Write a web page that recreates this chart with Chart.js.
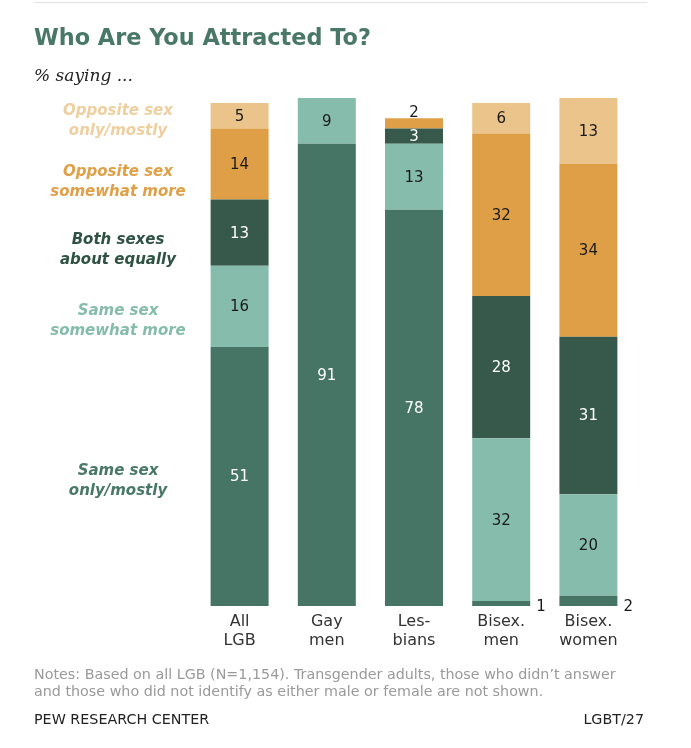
<!DOCTYPE html>
<html>
<head>
<meta charset="utf-8">
<script src="https://cdn.jsdelivr.net/npm/chart.js@4/dist/chart.umd.min.js"></script>
<style>
  html, body { margin: 0; padding: 0; background: #fff; }
  #wrap { position: relative; width: 691px; height: 748px; overflow: hidden; }
  canvas { position: absolute; left: 0; top: 0; }
  .txt { position: absolute; white-space: nowrap; font-family: "DejaVu Sans", sans-serif; }
  #rule { position: absolute; left: 34px; top: 2px; width: 613px; height: 1px; background: #e2e2e2; }
  #title { left: 34px; top: 24px; font-size: 22.4px; font-weight: bold; color: #4a7868; }
  #sub { left: 34px; top: 65px; font-family: "DejaVu Serif", serif; font-style: italic; font-size: 17px; color: #222; }
  #notes { left: 34px; top: 666px; font-size: 14.3px; line-height: 17px; color: #9a9a9a; }
  #src { left: 34px; top: 711px; font-size: 14.3px; color: #222; }
  #code { right: 47px; top: 711px; font-size: 14.3px; color: #222; }
</style>
</head>
<body>
<div id="wrap">
  <canvas id="c" width="691" height="748"></canvas>
  <div id="rule"></div>
  <div class="txt" id="title">Who Are You Attracted To?</div>
  <div class="txt" id="sub">% saying ...</div>
  <div class="txt" id="notes">Notes: Based on all LGB (N=1,154). Transgender adults, those who didn’t answer<br>and those who did not identify as either male or female are not shown.</div>
  <div class="txt" id="src">PEW RESEARCH CENTER</div>
  <div class="txt" id="code">LGBT/27</div>
</div>
<script>
// ---- data ----
const categories = [["All", "LGB"], ["Gay", "men"], ["Les-", "bians"], ["Bisex.", "men"], ["Bisex.", "women"]];
const seriesNames = [
  ["Same sex", "only/mostly"],
  ["Same sex", "somewhat more"],
  ["Both sexes", "about equally"],
  ["Opposite sex", "somewhat more"],
  ["Opposite sex", "only/mostly"]
];
const sameSexOnly      = [51, 91, 78, 1, 2];
const sameSexSomewhat  = [16, 9, 13, 32, 20];
const bothEqually      = [13, null, 3, 28, 31];
const oppositeSomewhat = [14, null, 2, 32, 34];
const oppositeOnly     = [5, null, null, 6, 13];

// ---- styles ----
const barColors   = ["#477565", "#86bcab", "#37594c", "#de9f47", "#eac48b"];
const nameColors  = ["#4a7868", "#86bcab", "#2f5245", "#dfa048", "#eecf9f"];
const valueColors = ["#ffffff", "#1a1a1a", "#ffffff", "#1a1a1a", "#1a1a1a"];
const nameY = [481, 321, 250, 182, 121.5]; // pixel centers of the left-hand labels

const allSeries = [sameSexOnly, sameSexSomewhat, bothEqually, oppositeSomewhat, oppositeOnly];

const labelPlugin = {
  id: 'labels',
  afterDatasetsDraw(chart) {
    const ctx = chart.ctx;
    ctx.save();
    // series names on the left
    ctx.font = 'italic bold 15px "DejaVu Sans"';
    ctx.textAlign = 'center';
    ctx.textBaseline = 'middle';
    seriesNames.forEach((lines, i) => {
      ctx.fillStyle = nameColors[i];
      ctx.fillText(lines[0], 118, nameY[i] - 10);
      ctx.fillText(lines[1], 118, nameY[i] + 10);
    });
    // values
    ctx.font = '15px "DejaVu Sans"';
    chart.data.datasets.forEach((ds, di) => {
      const meta = chart.getDatasetMeta(di);
      meta.data.forEach((bar, j) => {
        const v = ds.data[j];
        if (v === null || v === undefined) return;
        const top = Math.min(bar.y, bar.base), bottom = Math.max(bar.y, bar.base);
        if (v <= 2 && di === 0) {
          ctx.fillStyle = '#1a1a1a';
          ctx.textAlign = 'left';
          ctx.textBaseline = 'middle';
          ctx.fillText(String(v), bar.x + bar.width / 2 + 6, bottom + 1);
        } else if (v <= 2) {
          ctx.fillStyle = '#1a1a1a';
          ctx.textAlign = 'center';
          ctx.textBaseline = 'alphabetic';
          ctx.fillText(String(v), bar.x, top - 1);
        } else {
          ctx.fillStyle = valueColors[di];
          ctx.textAlign = 'center';
          ctx.textBaseline = 'middle';
          ctx.fillText(String(v), bar.x, (top + bottom) / 2 + 1);
        }
      });
    });
    ctx.restore();
  }
};

new Chart(document.getElementById('c'), {
  type: 'bar',
  data: {
    labels: categories,
    datasets: allSeries.map((d, i) => ({
      label: seriesNames[i].join(' '),
      data: d,
      backgroundColor: barColors[i],
      borderWidth: 0,
      categoryPercentage: 1,
      barPercentage: 0.665
    }))
  },
  options: {
    responsive: false,
    animation: false,
    devicePixelRatio: 1,
    layout: { padding: { left: 196, right: 59, top: 98, bottom: 91.6 } },
    plugins: { legend: { display: false }, tooltip: { enabled: false } },
    scales: {
      x: {
        stacked: true,
        grid: { display: false, drawTicks: false },
        border: { display: false },
        ticks: {
          padding: 6,
          maxRotation: 0,
          autoSkip: false,
          color: '#333',
          font: { family: 'DejaVu Sans', size: 16, lineHeight: 1.2 }
        }
      },
      y: { stacked: true, display: false, min: 0, max: 100 }
    }
  },
  plugins: [labelPlugin]
});
</script>
</body>
</html>
